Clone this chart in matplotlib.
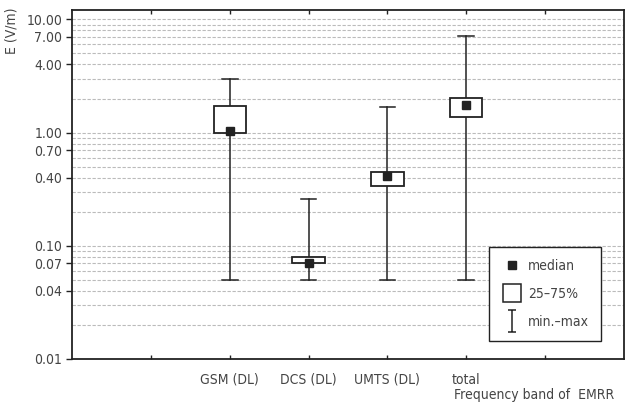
import matplotlib
matplotlib.use("Agg")
import matplotlib.pyplot as plt
from matplotlib import font_manager
from matplotlib.path import Path
from matplotlib.lines import Line2D
from matplotlib.ticker import FixedLocator, LogLocator, NullFormatter

# the original uses a condensed face; take the narrowest one we have
names = {f.name for f in font_manager.fontManager.ttflist}
cond = [f for f in font_manager.fontManager.ttflist
        if f.name == "DejaVu Sans" and "ondensed" in f.fname and "Bold" not in f.fname]
if "Liberation Sans Narrow" in names:
    plt.rcParams['font.family'] = ['Liberation Sans Narrow', 'DejaVu Sans']
    fsize = 11
elif "DejaVu Sans Condensed" in names:
    plt.rcParams['font.family'] = ['DejaVu Sans Condensed', 'DejaVu Sans']
    fsize = 10
elif cond:
    plt.rcParams['font.family'] = ['DejaVu Sans']
    plt.rcParams['font.stretch'] = 'condensed'
    fsize = 10
else:
    plt.rcParams['font.family'] = ['Roboto', 'DejaVu Sans']
    fsize = 10

# ---- data ----
bands = ["GSM (DL)", "DCS (DL)", "UMTS (DL)", "total"]
e_min = [0.05, 0.05, 0.05, 0.05]
e_q25 = [0.99, 0.070, 0.34, 1.38]
e_median = [1.04, 0.070, 0.41, 1.74]
e_q75 = [1.73, 0.080, 0.45, 2.03]
e_max = [3.0, 0.26, 1.68, 7.1]

ytick_vals = [0.01, 0.04, 0.07, 0.10, 0.40, 0.70, 1.00, 4.00, 7.00, 10.00]

ink = "#222222"
txt = "#444444"

fig = plt.figure(figsize=(6.25, 4.12), dpi=100)
ax = fig.add_axes([72 / 625, 53 / 412, 552 / 625, 349 / 412])

xs = [2, 3, 4, 5]
box_w = 0.41
cap_w = 0.2
for x, lo, q1, med, q3, hi in zip(xs, e_min, e_q25, e_median, e_q75, e_max):
    # whisker min-max
    ax.plot([x, x], [lo, q1], color=ink, lw=1.1, zorder=3)
    ax.plot([x, x], [q3, hi], color=ink, lw=1.1, zorder=3)
    ax.plot([x - cap_w / 2, x + cap_w / 2], [lo, lo], color=ink, lw=1.1, zorder=3)
    ax.plot([x - cap_w / 2, x + cap_w / 2], [hi, hi], color=ink, lw=1.1, zorder=3)
    # box 25-75%
    ax.fill([x - box_w / 2, x + box_w / 2, x + box_w / 2, x - box_w / 2],
            [q1, q1, q3, q3], facecolor="white", edgecolor=ink, lw=1.3, zorder=4)
    # median
    ax.plot(x, med, marker="s", ms=6, color=ink, zorder=5, ls="none")

ax.set_yscale("log")
ax.set_ylim(0.01, 12.1)
ax.set_xlim(0, 7)

ax.yaxis.set_major_locator(FixedLocator(ytick_vals))
ax.set_yticklabels([f"{v:.2f}" for v in ytick_vals])
ax.yaxis.set_minor_locator(LogLocator(base=10, subs=range(1, 10)))
ax.yaxis.set_minor_formatter(NullFormatter())
ax.tick_params(axis="y", which="minor", length=0)
ax.tick_params(axis="y", which="major", direction="out", length=4, width=1,
               color=ink, labelsize=fsize, labelcolor=txt, pad=3)

ax.set_xticks([1, 2, 3, 4, 5, 6])
ax.set_xticklabels(["", *bands, ""])
ax.tick_params(axis="x", direction="in", length=3, width=1, color=ink,
               labelsize=fsize, labelcolor=txt, pad=10, top=True)

ax.grid(True, axis="y", which="both", color="#bbbbbb", ls=(0, (3, 1.5)), lw=0.8)
ax.set_axisbelow(True)
for sp in ax.spines.values():
    sp.set_color(ink)
    sp.set_linewidth(1.3)

# legend
ibeam = Path([(-0.35, -1), (0.35, -1), (0, -1), (0, 1), (-0.35, 1), (0.35, 1)],
             [Path.MOVETO, Path.LINETO, Path.MOVETO, Path.LINETO, Path.MOVETO, Path.LINETO])
handles = [
    Line2D([], [], marker="s", ms=6, color=ink, ls="none"),
    Line2D([], [], marker="s", ms=13, mfc="white", mec=ink, mew=1.1, ls="none"),
    Line2D([], [], marker=ibeam, ms=16, mfc="none", mec=ink, mew=1.1, ls="none"),
]
leg = ax.legend(handles, ["median", "25–75%", "min.–max"], loc="lower left",
                bbox_to_anchor=(0.755, 0.052), fontsize=fsize, labelspacing=1.0,
                handletextpad=0.4, borderpad=0.85, borderaxespad=0, fancybox=False,
                framealpha=1, edgecolor=ink, handlelength=1.6)
leg.get_frame().set_linewidth(1.0)
for t in leg.get_texts():
    t.set_color(txt)

fig.text(12 / 625, 1 - 8 / 412, "E (V/m)", rotation=90, ha="center", va="top",
         fontsize=fsize, color=txt)
fig.text(614 / 625, 1 - 395 / 412, "Frequency band of  EMRR", ha="right", va="center",
         fontsize=fsize, color=txt)

fig.savefig("out.png", dpi=100)
